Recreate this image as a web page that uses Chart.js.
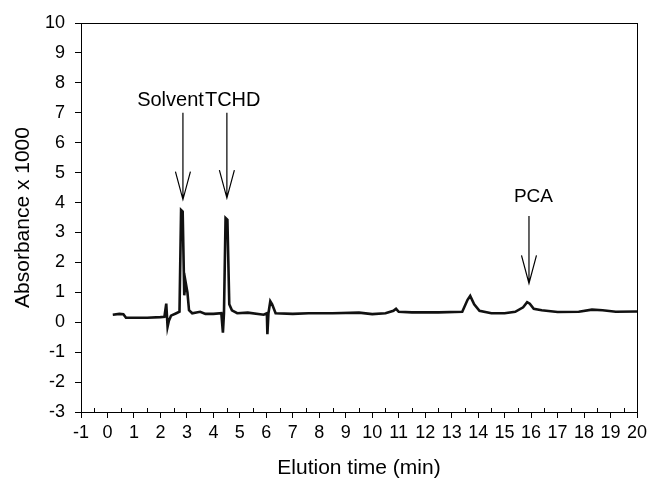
<!DOCTYPE html>
<html lang="en">
<head>
    <meta charset="UTF-8">
    <title>Elution</title>
    <style>
        body {margin: 0; background: #fff;}
        .chart-wrap {width: 652px; height: 481px;}
    </style>
</head>
<body>
    <div class="chart-wrap">
        <canvas id="myChart" width="652" height="481"></canvas>
    </div>

    <script src="https://cdn.jsdelivr.net/npm/chart.js"></script>
    <script>

// chromatogram trace (time in min, absorbance x 1000)
const times = [0.2, 0.45, 0.6, 0.7, 1.5, 2.0, 2.15, 2.22, 2.27, 2.32, 2.4, 2.6, 2.72, 2.78, 2.84, 2.9, 2.95, 3.02, 3.08, 3.2, 3.5, 3.7, 4.0, 4.3, 4.36, 4.4, 4.46, 4.53, 4.6, 4.7, 4.9, 5.3, 5.9, 6.02, 6.04, 6.08, 6.15, 6.22, 6.35, 7.0, 7.6, 8.5, 9.5, 10.0, 10.5, 10.8, 10.9, 11.0, 11.5, 12.5, 13.4, 13.6, 13.7, 13.85, 14.05, 14.5, 15.0, 15.4, 15.7, 15.85, 15.95, 16.1, 16.4, 17.0, 17.8, 18.3, 18.7, 19.2, 20.0];
const absorb = [0.25, 0.28, 0.27, 0.15, 0.15, 0.17, 0.18, 0.62, -0.15, 0.05, 0.22, 0.3, 0.35, 3.75, 3.7, 0.9, 1.35, 1.0, 0.4, 0.3, 0.35, 0.28, 0.28, 0.3, -0.35, 0.3, 3.48, 3.42, 0.6, 0.4, 0.3, 0.32, 0.25, 0.3, -0.4, 0.3, 0.7, 0.6, 0.3, 0.28, 0.3, 0.3, 0.32, 0.27, 0.3, 0.38, 0.45, 0.35, 0.33, 0.33, 0.35, 0.75, 0.88, 0.6, 0.38, 0.3, 0.3, 0.35, 0.5, 0.67, 0.62, 0.45, 0.4, 0.34, 0.35, 0.42, 0.4, 0.35, 0.36];

// peak labels and arrows
const peakNames = ['Solvent', 'TCHD', 'PCA'];
const nameX = [1.12, 3.68, 15.35];
const nameY = [7.4, 7.4, 4.2];
const arrowX = [2.85, 4.51, 15.92];
const arrowFrom = [7.0, 7.0, 3.55];
const arrowTo = [4.1, 4.15, 1.3];

const FONT = 'Arial, "Liberation Sans", sans-serif';

const points = times.map((t, i) => ({x: t, y: absorb[i]}));

// frame, minor ticks, arrows and peak names
const extras = {
    id: 'extras',
    afterDatasetsDraw(chart) {
        const {ctx, chartArea: a, scales: {x, y}} = chart;
        ctx.save();
        ctx.strokeStyle = '#000';
        ctx.lineWidth = 1;
        ctx.strokeRect(a.left + 0.5, a.top + 0.5, a.right - a.left, a.bottom - a.top);

        // minor ticks on the time axis, pointing inside
        ctx.beginPath();
        for (let t = -0.5; t < 20; t += 1) {
            const px = Math.round(x.getPixelForValue(t)) + 0.5;
            ctx.moveTo(px, a.bottom);
            ctx.lineTo(px, a.bottom - 4);
        }
        ctx.stroke();

        // arrows
        ctx.lineWidth = 1.2;
        arrowX.forEach((ax, i) => {
            const px = x.getPixelForValue(ax);
            const top = y.getPixelForValue(arrowFrom[i]);
            const tip = y.getPixelForValue(arrowTo[i]);
            ctx.beginPath();
            ctx.moveTo(px, top);
            ctx.lineTo(px, tip);
            ctx.moveTo(px - 7.5, tip - 28);
            ctx.lineTo(px, tip);
            ctx.lineTo(px + 7.5, tip - 28);
            ctx.stroke();
        });

        // peak names
        ctx.fillStyle = '#000';
        ctx.textBaseline = 'middle';
        ctx.textAlign = 'left';
        peakNames.forEach((n, i) => {
            ctx.font = (i < 2 ? '20px ' : '19px ') + FONT;
            ctx.fillText(n, x.getPixelForValue(nameX[i]), y.getPixelForValue(nameY[i]));
        });
        ctx.restore();
    }
};

const ctx = document.getElementById('myChart').getContext('2d');

const config = {
    type: 'scatter',
    plugins: [extras],
    data: {
        datasets: [{
            data: points,
            showLine: true,
            borderColor: '#111',
            borderWidth: 2.6,
            pointRadius: 0,
            tension: 0
        }]
    },
    options: {
        responsive: false,
        animation: false,
        layout: {padding: {top: 23, right: 15, left: 0, bottom: 0}},
        plugins: {
            legend: {display: false},
            tooltip: {enabled: false}
        },
        scales: {
            x: {
                type: 'linear',
                min: -1,
                max: 20,
                afterFit: (s) => { s.height = 69; },
                border: {display: true, color: '#000', width: 1},
                grid: {drawOnChartArea: false, drawTicks: true, tickLength: 6, color: '#000'},
                ticks: {
                    stepSize: 1,
                    autoSkip: false,
                    maxRotation: 0,
                    padding: 4,
                    color: '#000',
                    font: {family: FONT, size: 18}
                },
                title: {
                    display: true,
                    text: 'Elution time (min)',
                    color: '#000',
                    font: {family: FONT, size: 21},
                    padding: {top: 5, bottom: 0}
                }
            },
            y: {
                min: -3,
                max: 10,
                afterFit: (s) => { s.width = 81; },
                border: {display: true, color: '#000', width: 1},
                grid: {drawOnChartArea: false, drawTicks: true, tickLength: 6, color: '#000'},
                ticks: {
                    stepSize: 1,
                    padding: 10,
                    color: '#000',
                    font: {family: FONT, size: 18}
                },
                title: {
                    display: true,
                    text: 'Absorbance x 1000',
                    color: '#000',
                    font: {family: FONT, size: 21},
                    padding: {top: 11, bottom: 0}
                }
            }
        }
    }
};

const myChart = new Chart(ctx, config);
    </script>
</body>
</html>
